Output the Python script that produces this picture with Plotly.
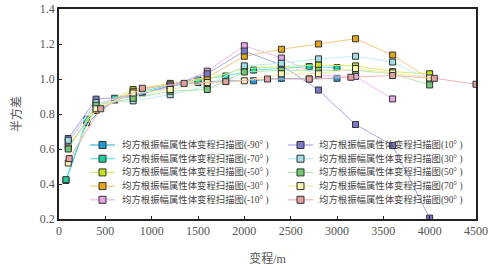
import plotly.graph_objects as go

# ---- data ----
x_300 = [75, 300, 600, 900, 1200, 1500, 1800, 2100, 2400, 2700, 3000]
x_400 = [100, 400, 800, 1200, 1600, 2000, 2400, 2800, 3200, 3600, 4000]
x_450 = [110, 450, 900, 1350, 1800, 2250, 2700, 3150, 3600, 4050, 4500]

y_m90 = [0.42, 0.75, 0.88, 0.92, 0.96, 0.98, 0.99, 0.99, 1.004, 1.0, 1.004]
y_m70 = [0.425, 0.77, 0.89, 0.93, 0.965, 0.995, 1.017, 1.051, 1.06, 1.071, 1.065]
y_m50 = [0.61, 0.84, 0.94, 0.975, 1.0, 1.06, 1.07, 1.08, 1.075, 1.042, 1.03]
y_m30 = [0.62, 0.82, 0.93, 0.97, 1.01, 1.13, 1.17, 1.20, 1.23, 1.137, 1.0]
y_m10 = [0.64, 0.86, 0.91, 0.95, 1.045, 1.19, 1.12, 1.02, 1.015, 0.886]
y_p10 = [0.66, 0.885, 0.90, 0.96, 1.03, 1.16, 1.08, 0.937, 0.74, 0.62, 0.205]
y_p30 = [0.65, 0.865, 0.875, 0.91, 0.96, 1.075, 1.09, 1.115, 1.13, 1.097, 0.993]
y_p50 = [0.60, 0.85, 0.89, 0.93, 0.94, 1.04, 1.05, 1.05, 1.05, 1.03, 0.966]
y_p70 = [0.52, 0.83, 0.92, 0.94, 0.98, 0.99, 1.03, 1.03, 1.06, 1.035, 1.006]
y_p90 = [0.545, 0.83, 0.947, 0.975, 0.985, 1.0, 1.0, 1.01, 1.02, 1.004, 0.97]

names = ["均方根振幅属性体变程扫描图(-90° )", "均方根振幅属性体变程扫描图(-70° )",
         "均方根振幅属性体变程扫描图(-50° )", "均方根振幅属性体变程扫描图(-30° )",
         "均方根振幅属性体变程扫描图(-10° )", "均方根振幅属性体变程扫描图(10° )",
         "均方根振幅属性体变程扫描图(30° )", "均方根振幅属性体变程扫描图(50° )",
         "均方根振幅属性体变程扫描图(70° )", "均方根振幅属性体变程扫描图(90° )"]

series = [
    (x_300, y_m90, "#1e9ad6", "#3db8e0"),
    (x_300, y_m70, "#1fcf9a", "#5ee8d8"),
    (x_400, y_m50, "#c6e318", "#d4ec6a"),
    (x_400, y_m30, "#e3a81a", "#f5c87a"),
    (x_400[:len(y_m10)], y_m10, "#e8a4e8", "#f0bcf0"),
    (x_400, y_p10, "#7a78c8", "#a9a8e8"),
    (x_400, y_p30, "#9ee0e6", "#bdeff2"),
    (x_400, y_p50, "#74c874", "#aee8ae"),
    (x_400, y_p70, "#f4f4b0", "#f3eea0"),
    (x_450, y_p90, "#e3a0a0", "#f2b4b4"),
]

W, H = 495, 269
ML, MR, MT, MB = 59, 19, 9, 50
PW, PH = W - ML - MR, H - MT - MB

def px2paper(px, py):
    return (px - ML) / PW, (H - MB - py) / PH

font_main = "'Liberation Serif', 'Noto Sans CJK SC', serif"

fig = go.Figure()
shapes, annos = [], []
col_x = [(90, 115, 120), (288, 313, 317)]
row_y = [145, 158.7, 172.4, 186.1, 199.8]
for i, ((xs, ys, mc, lc), nm) in enumerate(zip(series, names)):
    fig.add_trace(go.Scatter(
        x=xs, y=ys, name=nm, mode="lines+markers", showlegend=False,
        line=dict(color=lc, width=1),
        marker=dict(symbol="square", size=6, color=mc,
                    line=dict(color="#333333", width=1)),
    ))
    # manual legend key (layout decoration, in paper coordinates)
    c, r = divmod(i, 5)
    x0, x1, xt = col_x[c]
    yy = row_y[r]
    a0, b0 = px2paper(x0, yy)
    a1, _ = px2paper(x1, yy)
    shapes.append(dict(type="line", xref="paper", yref="paper", x0=a0, x1=a1, y0=b0, y1=b0,
                       line=dict(color=lc, width=1.2), layer="above"))
    xm = (x0 + x1) / 2
    r0 = px2paper(xm - 3.5, yy + 3.5)
    r1 = px2paper(xm + 3.5, yy - 3.5)
    shapes.append(dict(type="rect", xref="paper", yref="paper", x0=r0[0], y0=r0[1], x1=r1[0], y1=r1[1],
                       fillcolor=mc, line=dict(color="#333333", width=1), layer="above"))
    ta, tb = px2paper(xt, yy)
    annos.append(dict(xref="paper", yref="paper", x=ta, y=tb, xanchor="left", yanchor="middle",
                      text=nm, showarrow=False,
                      font=dict(family=font_main, size=9.4, color="#444")))

fig.update_layout(
    width=W, height=H,
    margin=dict(l=ML, r=MR, t=MT, b=MB, autoexpand=False),
    paper_bgcolor="white", plot_bgcolor="white",
    font=dict(family=font_main, color="#444"),
    shapes=shapes, annotations=annos,
    xaxis=dict(range=[0, 4500], tickvals=[0, 500, 1000, 1500, 2000, 2500, 3000, 3500, 4000, 4500],
               automargin=False,
               showgrid=False, zeroline=False, showline=True, linecolor="#222", linewidth=1.5,
               mirror=True, ticks="inside", ticklen=3, tickcolor="#222",
               tickfont=dict(size=12, color="#555"),
               title=dict(text="变程/m", font=dict(size=12, color="#555"), standoff=17)),
    yaxis=dict(range=[0.2, 1.4], tickvals=[0.2, 0.4, 0.6, 0.8, 1.0, 1.2, 1.4],
               ticktext=["0.2", "0.4", "0.6", "0.8", "1.0", "1.2", "1.4"],
               automargin=False,
               showgrid=False, zeroline=False, showline=True, linecolor="#222", linewidth=1.5,
               mirror=True, ticks="inside", ticklen=3, tickcolor="#222",
               tickfont=dict(size=12, color="#555"),
               title=dict(text="半方差", font=dict(size=12, color="#555"), standoff=16)),
)

fig.write_html("out.html", config={"displayModeBar": False},
               post_script="document.body.style.margin='0px';")
